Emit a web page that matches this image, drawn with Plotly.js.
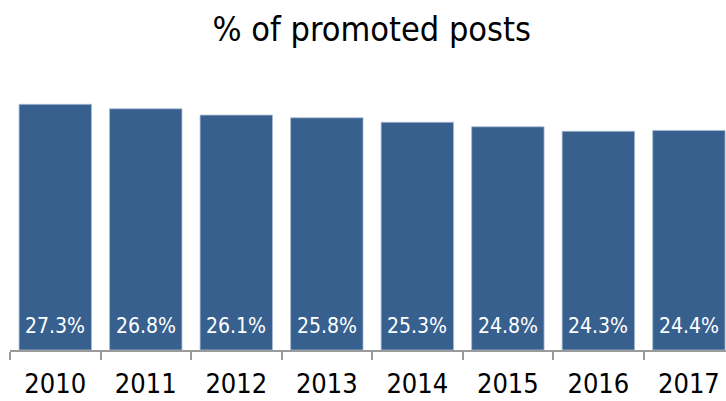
<!DOCTYPE html>
<html>
<head>
<meta charset="utf-8">
<script src="https://cdn.plot.ly/plotly-3.0.1.min.js"></script>
<style>html,body{margin:0;padding:0;background:#fff;}#chart{width:726px;height:401px;}</style>
</head>
<body>
<div id="chart"></div>
<script>
var years = ['2010','2011','2012','2013','2014','2015','2016','2017'];
var shares = [27.3, 26.8, 26.1, 25.8, 25.3, 24.8, 24.3, 24.4];
var titleText = '% of promoted posts';

var FONT = 'DejaVu Sans Condensed, DejaVu Sans, sans-serif';
var BAR = '#37608f';

var trace = {
  type: 'bar',
  x: years,
  y: shares,
  width: 0.8,
  marker: {color: BAR, line: {color: '#a8bbd3', width: 0.8}},
  hoverinfo: 'none'
};

// category axis: annotations are placed by category index
var annotations = years.map(function (yr, i) {
  return {
    x: i, y: 0, xref: 'x', yref: 'y',
    text: shares[i].toFixed(1) + '%',
    showarrow: false,
    xanchor: 'center', yanchor: 'middle', yshift: 24,
    font: {family: FONT, size: 21, color: '#ffffff'}
  };
});

var layout = {
  width: 726, height: 401,
  margin: {l: 10, r: 0, t: 80, b: 51, pad: 0},
  paper_bgcolor: '#ffffff', plot_bgcolor: '#ffffff',
  showlegend: false,
  title: {
    text: titleText,
    font: {family: FONT, size: 34, color: '#000000'},
    xref: 'container', x: 0.512, xanchor: 'center',
    yref: 'container', y: 1 - 29 / 401, yanchor: 'middle'
  },
  xaxis: {
    type: 'category',
    range: [-0.5, 7.41],
    tickson: 'boundaries',
    ticks: 'outside', ticklen: 8, tickwidth: 1.5, tickcolor: '#9a9a9a',
    showline: true, linecolor: '#9a9a9a', linewidth: 1.5,
    showgrid: false, zeroline: false,
    tickfont: {family: FONT, size: 27, color: '#000000'},
    ticklabelstandoff: 9,
    fixedrange: true
  },
  yaxis: {
    range: [0, 30],
    showticklabels: false, showline: false, ticks: '',
    showgrid: false, zeroline: false,
    fixedrange: true
  },
  annotations: annotations
};

Plotly.newPlot('chart', [trace], layout, {displayModeBar: false});
</script>
</body>
</html>
